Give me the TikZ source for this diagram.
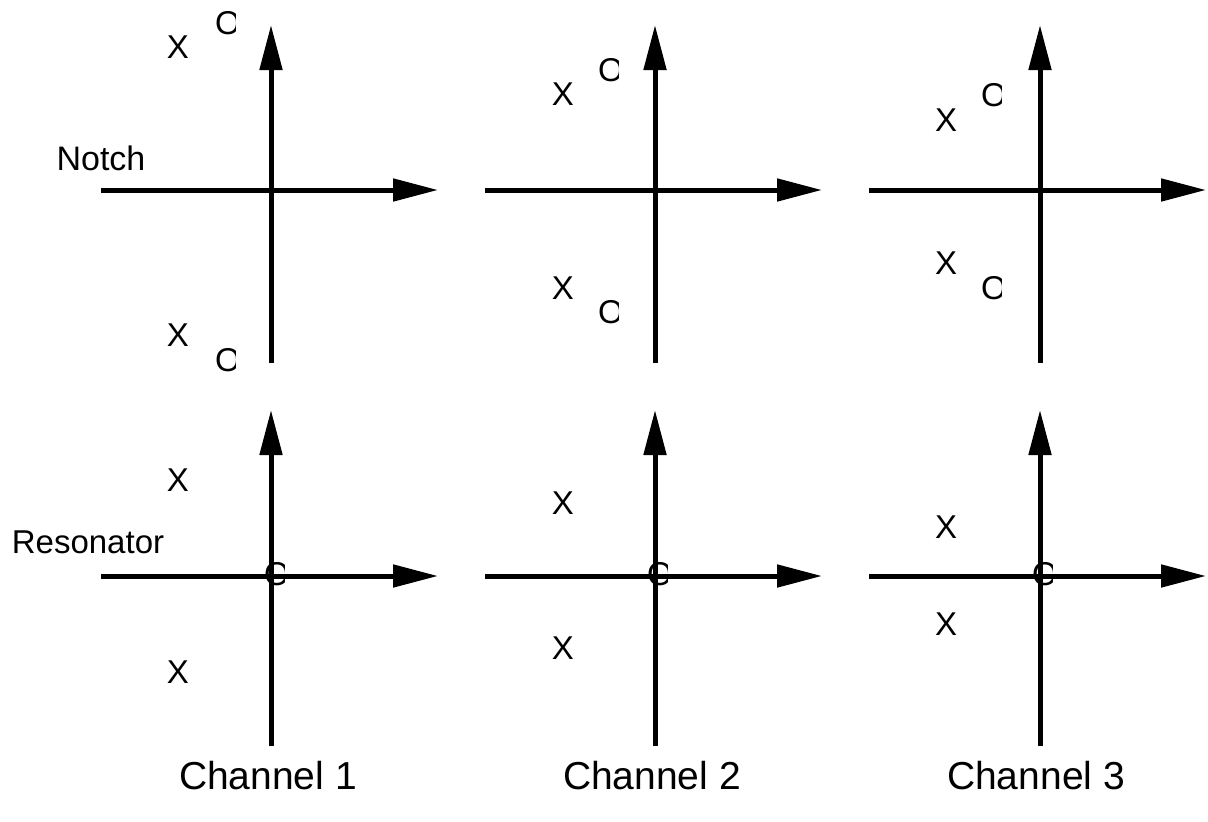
\documentclass[tikz,border=0pt]{standalone}
\usepackage{fontspec}
\setmainfont{Liberation Sans}
\usetikzlibrary{arrows.meta,calc}
\tikzset{
  axis/.style={line width=5pt, -{Triangle[length=45pt,width=22pt]}},
  lbl/.style={inner sep=0pt, font=\fontsize{33}{33}\selectfont},
  rowlbl/.style={inner sep=0pt, font=\fontsize{34}{34}\selectfont},
  chlbl/.style={inner sep=0pt, font=\fontsize{39}{39}\selectfont},
}
\newcommand\zeropt[2]{%
  \begin{scope}
    \clip ($(#2)+(-17,-17)$) rectangle ($(#2)+(7.5,17)$);
    \node[lbl] (#1) at (#2) {O};
  \end{scope}}
\begin{document}
\begin{tikzpicture}[x=1pt,y=-1pt]
\useasboundingbox (0,0) rectangle (1208,822);
% axis end coordinates
\foreach \n/\cx/\hx in {1/271/101, 2/655/485, 3/1040/869}{
  \coordinate (tb\n) at (\cx,363);
  \coordinate (tt\n) at (\cx,25);
  \coordinate (tl\n) at (\hx,190);
  \coordinate (tr\n) at (\hx+337,190);
  \coordinate (bb\n) at (\cx,746);
  \coordinate (bt\n) at (\cx,410);
  \coordinate (bl\n) at (\hx,576);
  \coordinate (br\n) at (\hx+337,576);
}
% zeros
\zeropt{z1a}{228,23}
\zeropt{z1b}{228,360}
\zeropt{z2a}{611,70}
\zeropt{z2b}{611,312}
\zeropt{z3a}{994,95}
\zeropt{z3b}{994,288}
\zeropt{z4}{277,574}
\zeropt{z5}{660,574}
\zeropt{z6}{1045,574}
% axes
\foreach \n in {1,2,3}{
  \draw[axis] (tb\n) -- (tt\n);
  \draw[axis] (tl\n) -- (tr\n);
  \draw[axis] (bb\n) -- (bt\n);
  \draw[axis] (bl\n) -- (br\n);
}
% poles
\node[lbl] (p1a) at (178,47) {X};
\node[lbl] (p1b) at (178,335) {X};
\node[lbl] (p2a) at (563,94) {X};
\node[lbl] (p2b) at (563,288) {X};
\node[lbl] (p3a) at (946,120) {X};
\node[lbl] (p3b) at (946,263) {X};
\node[lbl] (p4a) at (178,480) {X};
\node[lbl] (p4b) at (178,672) {X};
\node[lbl] (p5a) at (563,503) {X};
\node[lbl] (p5b) at (563,648) {X};
\node[lbl] (p6a) at (946,527) {X};
\node[lbl] (p6b) at (946,624) {X};
% labels
\node[rowlbl] (notch) at (101,158) {Notch};
\node[rowlbl, font=\fontsize{33}{33}\selectfont] (reso) at (88,542) {Resonator};
\node[chlbl] (ch1) at (268,776) {Channel 1};
\node[chlbl] (ch2) at (652,776) {Channel 2};
\node[chlbl] (ch3) at (1036,776) {Channel 3};
\end{tikzpicture}
\end{document}
